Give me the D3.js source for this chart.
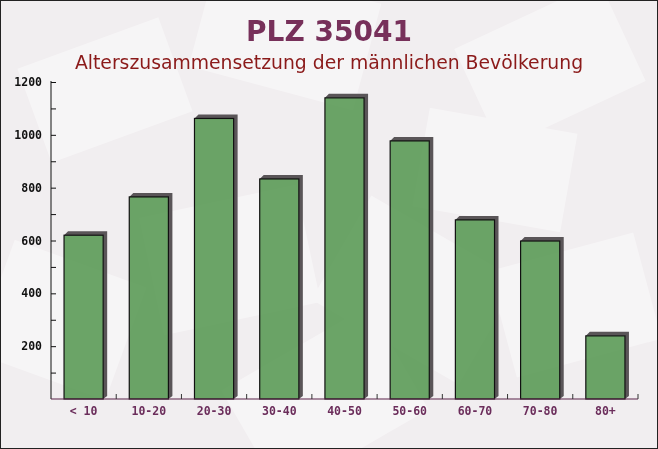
<!DOCTYPE html>
<html lang="de">
<head>
<meta charset="UTF-8">
<title>PLZ 35041</title>
<script src="https://d3js.org/d3.v7.min.js"></script>
<style>
  html, body { margin: 0; padding: 0; background: #fff; }
  svg { display: block; }
</style>
</head>
<body>
<svg id="chart" width="658" height="449"></svg>
<script>
// data
var ageGroups = ["< 10", "10-20", "20-30", "30-40", "40-50", "50-60", "60-70", "70-80", "80+"];
var maleCounts = [620, 765, 1062, 833, 1140, 977, 678, 598, 239];
var yTicks = [200, 400, 600, 800, 1000, 1200];

var svg = d3.select("#chart"),
    width = +svg.attr("width"),
    height = +svg.attr("height");

var margin = {top: 82, right: 20, bottom: 50, left: 51};

// background with faint envelope shapes
svg.append("rect").attr("width", width).attr("height", height).attr("fill", "#f1eef0");
var deco = svg.append("g").attr("fill", "#ffffff").attr("opacity", 0.4);
[[30, 40, 150, 100, -20], [200, -20, 170, 110, 15], [470, 10, 160, 110, -25],
 [-10, 260, 140, 120, 20], [150, 200, 160, 120, -12], [330, 230, 170, 120, 30],
 [500, 250, 150, 110, -15], [420, 120, 150, 100, 10], [240, 340, 170, 120, -30]]
  .forEach(function (e) {
    deco.append("rect")
      .attr("x", e[0]).attr("y", e[1]).attr("width", e[2]).attr("height", e[3])
      .attr("transform", "rotate(" + e[4] + "," + (e[0] + e[2] / 2) + "," + (e[1] + e[3] / 2) + ")");
  });

var x = d3.scaleBand()
    .domain(ageGroups)
    .range([margin.left, width - margin.right])
    .paddingInner(0.4)
    .paddingOuter(0.2);

var y = d3.scaleLinear()
    .domain([0, 1200])
    .range([height - margin.bottom, margin.top]);

// titles
svg.append("text")
    .attr("x", width / 2).attr("y", 41)
    .attr("text-anchor", "middle")
    .attr("font-family", "DejaVu Sans, Verdana, sans-serif")
    .attr("font-weight", "bold")
    .attr("font-size", 28)
    .attr("fill", "#77305a")
    .text("PLZ 35041");

svg.append("text")
    .attr("x", width / 2).attr("y", 69)
    .attr("text-anchor", "middle")
    .attr("font-family", "DejaVu Sans, Verdana, sans-serif")
    .attr("font-size", 18.8)
    .attr("fill", "#8b1a1a")
    .text("Alterszusammensetzung der männlichen Bevölkerung");

// bars with 3d shadow (only the outside strip)
var d3off = 4;
var bars = svg.append("g");
ageGroups.forEach(function (g, i) {
    var bx = x(g), bw = x.bandwidth(), by = y(maleCounts[i]), b0 = y(0);
    bars.append("polygon")
        .attr("points", [[bx, by], [bx + d3off, by - d3off], [bx + bw + d3off, by - d3off],
                         [bx + bw + d3off, b0 - 3], [bx + bw, b0], [bx + bw, by]].join(" "))
        .attr("fill", "#5a5558");
    bars.append("rect")
        .attr("x", bx).attr("y", by)
        .attr("width", bw).attr("height", b0 - by)
        .attr("fill", "#489044")
        .attr("fill-opacity", 0.8)
        .attr("stroke", "#111")
        .attr("stroke-width", 1.2);
});

// y axis
var yAxis = svg.append("g")
    .attr("transform", "translate(" + margin.left + ",0)")
    .call(d3.axisLeft(y).tickValues(d3.range(100, 1201, 100)).tickSize(-5).tickFormat(""));
yAxis.select(".domain").attr("stroke", "#111").attr("d", "M0," + (margin.top - 1) + "V" + y(0));
yAxis.selectAll(".tick line").attr("stroke", "#111");

svg.append("g").selectAll("text")
    .data(yTicks)
    .join("text")
    .attr("x", 42).attr("y", function (d) { return y(d) + 4; })
    .attr("text-anchor", "end")
    .attr("font-family", "DejaVu Sans Mono, monospace")
    .attr("font-weight", "bold")
    .attr("font-size", 11.5)
    .attr("fill", "#111")
    .text(function (d) { return d; });

// x axis
var step = x.step();
var bounds = ageGroups.map(function (g) { return x(g) - step * x.paddingInner() / 2; }).slice(1);
bounds.push(x(ageGroups[ageGroups.length - 1]) + x.bandwidth() + step * x.paddingInner() / 2);
var xAxis = svg.append("g")
    .attr("transform", "translate(0," + y(0) + ")");
xAxis.append("path")
    .attr("d", "M" + margin.left + ",0H" + bounds[bounds.length - 1])
    .attr("stroke", "#5a2348").attr("stroke-width", 1.2);
xAxis.selectAll("line")
    .data(bounds)
    .join("line")
    .attr("x1", function (d) { return d; }).attr("x2", function (d) { return d; })
    .attr("y1", 0).attr("y2", -5)
    .attr("stroke", "#333");

xAxis.selectAll("text")
    .data(ageGroups)
    .join("text")
    .attr("x", function (d) { return x(d) + x.bandwidth() / 2; })
    .attr("y", 16)
    .attr("text-anchor", "middle")
    .attr("font-family", "DejaVu Sans Mono, monospace")
    .attr("font-weight", "bold")
    .attr("font-size", 11.5)
    .attr("fill", "#6b2d5b")
    .text(function (d) { return d; });

// frame
svg.append("rect")
    .attr("x", 0.5).attr("y", 0.5)
    .attr("width", width - 1).attr("height", height - 1)
    .attr("fill", "none").attr("stroke", "#222");
</script>
</body>
</html>
